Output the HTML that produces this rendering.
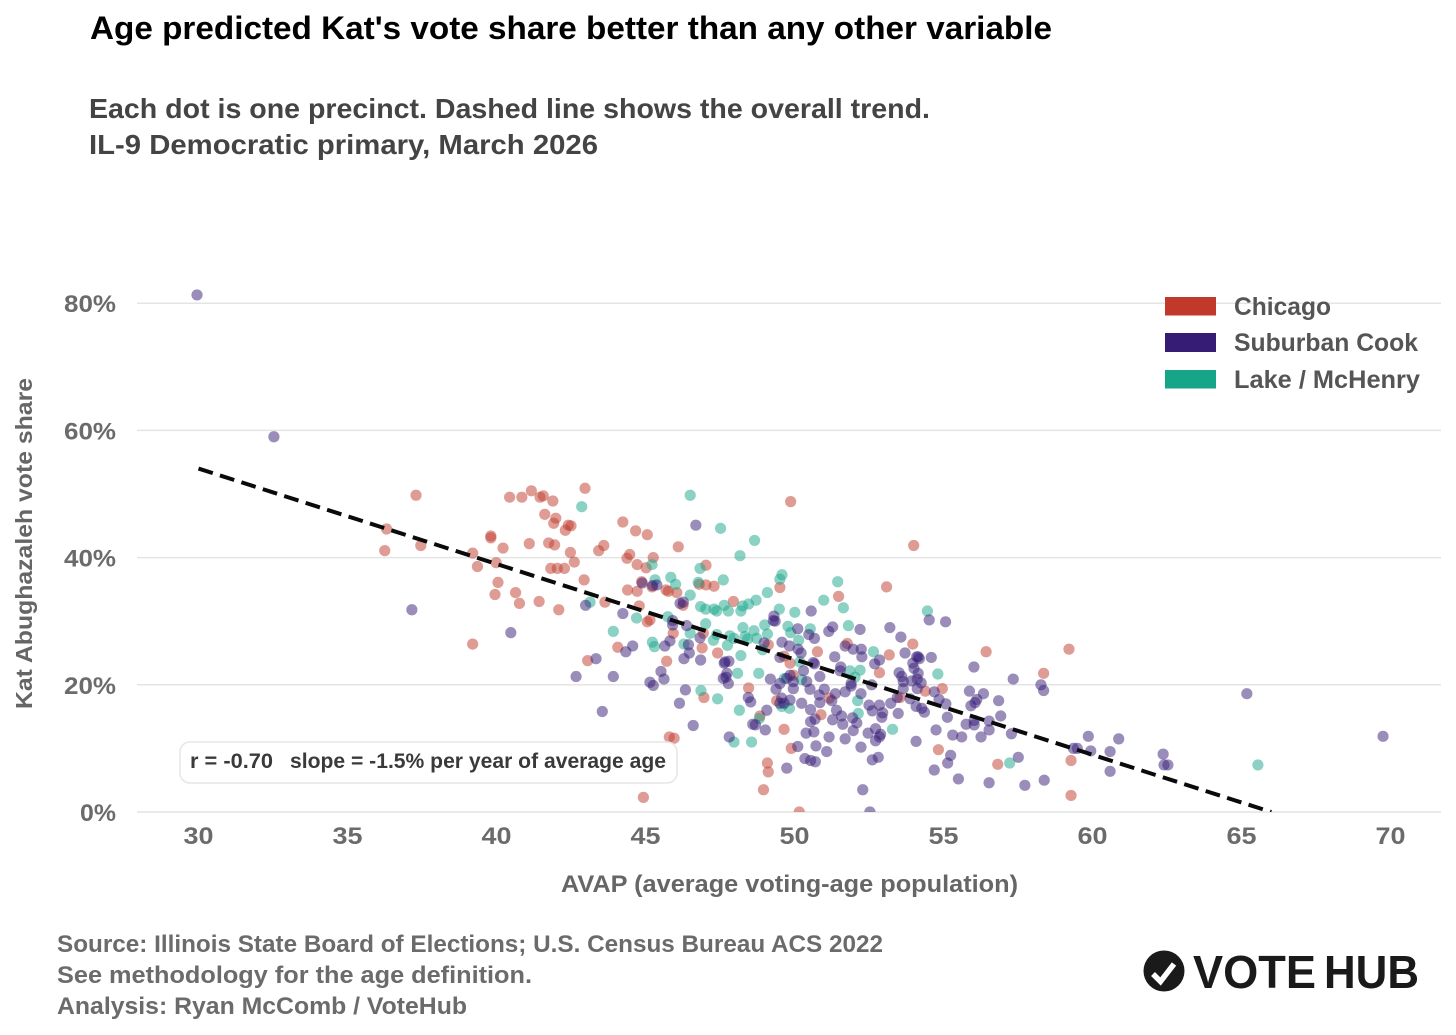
<!DOCTYPE html>
<html lang="en">
<head>
<meta charset="utf-8">
<title>Age predicted Kat's vote share</title>
<style>
html,body{margin:0;padding:0;background:#fff;width:1456px;height:1035px;overflow:hidden}
svg{display:block}
text{font-family:"Liberation Sans",sans-serif;font-weight:700}
</style>
</head>
<body>
<svg id="chart" width="1456" height="1035" viewBox="0 0 1456 1035" xmlns="http://www.w3.org/2000/svg">
  <defs><clipPath id="plot-clip"><rect x="137" y="250" width="1304" height="562"></rect></clipPath></defs>
  <text x="90" y="39" font-size="32" fill="#000" textLength="962" lengthAdjust="spacingAndGlyphs">Age predicted Kat's vote share better than any other variable</text>
  <text x="89" y="118" font-size="28" fill="#444" textLength="841" lengthAdjust="spacingAndGlyphs">Each dot is one precinct. Dashed line shows the overall trend.</text>
  <text x="89" y="154" font-size="28" fill="#444" textLength="509" lengthAdjust="spacingAndGlyphs">IL-9 Democratic primary, March 2026</text>
  <g id="grid"></g>
  <g id="y-ticks"></g>
  <g id="x-ticks"></g>
  <g clip-path="url(#plot-clip)">
    <g id="points"></g>
    <g id="trend"></g>
  </g>
  <text transform="translate(32,543.5) rotate(-90)" text-anchor="middle" font-size="23.5" fill="#666" textLength="331" lengthAdjust="spacingAndGlyphs">Kat Abughazaleh vote share</text>
  <text x="561" y="892" font-size="24" fill="#666" textLength="457" lengthAdjust="spacingAndGlyphs">AVAP (average voting-age population)</text>

  <g>
    <rect x="1165" y="297" width="51" height="18.5" fill="#c0392b"></rect>
    <text x="1234" y="315" font-size="25" fill="#555" textLength="97" lengthAdjust="spacingAndGlyphs">Chicago</text>
    <rect x="1165" y="333" width="51" height="19" fill="#361c75"></rect>
    <text x="1234" y="351" font-size="25" fill="#555" textLength="184" lengthAdjust="spacingAndGlyphs">Suburban Cook</text>
    <rect x="1165" y="370" width="51" height="18.5" fill="#17a589"></rect>
    <text x="1234" y="388" font-size="25" fill="#555" textLength="186" lengthAdjust="spacingAndGlyphs">Lake / McHenry</text>
  </g>

  <g>
    <rect x="180" y="742" width="497" height="41" rx="10" ry="10" fill="#fff" fill-opacity="0.9" stroke="#e6e6e6" stroke-width="1.5"></rect>
    <text x="190" y="768" font-size="21" fill="#3a3a3a" textLength="83" lengthAdjust="spacingAndGlyphs">r = -0.70</text>
    <text x="290" y="768" font-size="21" fill="#3a3a3a" textLength="376" lengthAdjust="spacingAndGlyphs">slope = -1.5% per year of average age</text>
  </g>

  <text x="57" y="952" font-size="24.5" fill="#6b6b6b" textLength="826" lengthAdjust="spacingAndGlyphs">Source: Illinois State Board of Elections; U.S. Census Bureau ACS 2022</text>
  <text x="57" y="983" font-size="24.5" fill="#6b6b6b" textLength="475" lengthAdjust="spacingAndGlyphs">See methodology for the age definition.</text>
  <text x="57" y="1014" font-size="24.5" fill="#6b6b6b" textLength="410" lengthAdjust="spacingAndGlyphs">Analysis: Ryan McComb / VoteHub</text>

  <g>
    <circle cx="1164" cy="971" r="20.5" fill="#1a1a1a"></circle>
    <polyline points="1153,974 1160.5,981.5 1174,964" fill="none" stroke="#fff" stroke-width="5.5"></polyline>
    <text x="1193" y="988" font-size="46" fill="#1a1a1a" textLength="123" lengthAdjust="spacingAndGlyphs">VOTE</text>
    <text x="1324" y="988" font-size="46" fill="#1a1a1a" textLength="95" lengthAdjust="spacingAndGlyphs">HUB</text>
  </g>
</svg>
<script>
const xTickValues = [30,35,40,45,50,55,60,65,70];
const yTickValues = [0,20,40,60,80];
const yTickLabels = ["0%","20%","40%","60%","80%"];
const trendAge = [30,66];
const trendShare = [54,0];

const chicagoAge = [37.30,40.44,40.85,41.17,41.46,41.57,41.89,42.97,41.62,41.99,41.92,42.41,42.50,42.31,44.24,44.67,45.06,36.31,36.25,37.46,39.81,39.81,40.22,41.10,41.75,41.95,39.20,39.99,39.36,42.48,42.61,41.82,42.04,42.28,43.43,43.60,44.38,44.47,44.72,45.02,45.26,46.10,42.94,40.05,39.95,40.64,40.77,41.43,42.09,39.20,44.40,44.72,45.69,45.77,46.05,43.64,44.79,45.06,45.15,45.93,44.07,44.87,45.22,49.87,54.00,47.03,46.80,47.03,47.30,47.95,49.51,51.48,53.09,46.26,46.90,47.42,45.71,49.12,49.65,50.77,51.77,53.18,53.97,46.94,43.06,48.46,46.96,48.84,49.65,49.40,50.89,51.17,49.89,45.80,45.96,49.09,49.12,48.96,44.93,50.16,49.85,49.96,56.43,59.21,58.36,52.85,54.39,54.96,53.54,54.83,56.82,59.28,59.28];
const chicagoShare = [49.8,49.5,49.5,50.5,49.5,49.7,48.9,50.9,46.8,46.2,45.4,45.1,45.0,44.3,45.6,44.2,43.6,44.5,41.1,41.9,43.4,43.1,41.5,42.2,42.3,42.0,40.7,39.2,38.6,40.8,39.3,38.3,38.3,38.3,41.1,41.9,39.9,40.5,38.9,38.4,40.0,41.7,36.5,36.1,34.2,34.5,32.8,33.1,31.8,26.4,34.9,34.7,34.9,34.7,34.5,33.0,32.4,29.9,30.2,28.1,25.9,36.2,35.4,48.8,41.9,38.8,35.8,35.7,35.5,33.1,35.3,33.9,35.4,32.5,25.8,25.0,23.7,26.3,24.5,25.2,26.5,24.7,26.4,28.1,23.8,19.5,18.0,15.1,13.0,17.5,15.3,17.9,10.0,11.8,11.6,7.7,6.3,3.5,2.3,0.0,23.4,21.5,25.2,25.6,21.8,21.9,19.0,19.4,18.0,9.8,7.5,8.1,2.6];

const lakeAge = [42.86,45.22,45.32,45.85,46.01,43.14,44.70,45.75,43.92,45.23,45.30,46.50,47.52,48.66,48.17,46.83,46.77,47.61,49.58,49.51,51.45,46.50,49.09,48.71,48.46,48.26,48.20,47.78,47.64,47.39,47.30,47.02,46.85,49.49,50.01,50.98,51.64,54.46,51.81,47.02,46.50,47.39,47.28,47.75,47.83,47.97,48.27,48.34,48.43,48.64,48.73,49.00,49.09,48.93,48.20,49.78,49.87,50.14,50.53,52.65,46.29,50.18,46.86,47.42,48.15,48.82,47.97,48.56,48.09,48.80,49.66,49.83,49.57,50.24,51.86,52.12,52.14,54.81,52.20,52.03,53.29,57.22,65.55];
const lakeShare = [48.0,38.9,36.5,36.9,35.8,33.0,30.5,30.7,28.4,26.7,26.0,49.8,44.6,42.7,40.3,38.3,36.1,36.5,37.3,36.6,36.2,34.1,34.5,33.3,32.7,32.4,31.6,31.6,32.5,31.6,31.9,31.9,32.3,31.9,31.4,33.3,32.1,31.6,29.3,29.6,28.1,27.9,27.0,26.2,27.7,27.3,29.0,27.6,27.2,28.5,27.3,29.4,28.0,25.5,24.6,29.2,28.2,27.0,28.8,25.2,26.4,23.6,19.1,17.8,16.0,14.7,11.0,11.0,21.8,21.8,21.0,16.3,16.6,20.8,22.2,17.5,15.5,21.7,22.3,21.2,13.0,7.7,7.4];

const suburbanAge = [37.16,40.48,42.99,44.24,44.89,45.24,45.38,45.91,45.91,45.82,45.65,44.57,44.34,46.16,46.69,50.56,49.31,49.29,49.35,50.11,50.48,50.67,51.15,51.28,52.20,53.20,54.52,55.07,53.57,46.27,46.38,46.83,46.44,46.47,46.29,46.85,47.80,47.67,48.98,49.58,49.83,50.12,50.22,51.35,51.70,51.97,52.24,52.26,52.85,53.71,54.10,54.59,50.63,54.15,43.34,42.67,43.92,45.15,45.26,45.52,45.62,46.34,46.14,43.55,46.60,47.64,47.73,47.61,47.78,47.70,48.45,48.53,49.07,48.60,48.69,49.02,47.81,49.74,49.19,49.38,49.57,49.65,49.51,49.85,50.24,50.54,50.69,50.54,50.39,50.65,50.11,50.72,51.08,50.35,50.54,50.70,51.16,51.70,51.97,51.28,51.62,51.58,51.41,51.95,52.09,50.85,50.83,51.00,51.37,51.25,51.70,50.52,50.41,50.30,50.85,51.55,51.53,50.67,49.51,49.51,49.74,49.85,49.96,49.96,51.90,52.69,54.19,53.97,54.01,53.51,53.60,53.65,53.65,54.15,54.12,54.25,53.93,54.12,53.45,53.88,53.23,54.08,54.27,54.36,53.48,54.69,54.85,55.08,55.13,56.02,57.34,55.87,56.34,56.12,56.06,55.92,56.85,56.92,55.76,56.03,56.03,56.53,56.53,56.26,55.61,55.31,54.75,54.08,57.28,57.51,55.24,55.14,54.69,55.50,56.53,57.73,58.38,60.59,60.59,60.88,59.86,59.94,59.36,59.49,58.27,58.36,52.29,52.53,52.61,52.81,52.23,52.72,52.47,52.72,52.89,52.85,52.93,52.96,52.85,52.50,52.61,52.23,51.90,52.59,29.95,32.53,65.18,69.75,62.37,62.40,62.53];
const suburbanShare = [31.8,28.2,32.5,31.2,36.0,35.6,35.7,30.1,29.4,26.9,26.1,26.1,25.2,32.8,45.1,31.6,30.8,30.1,30.0,28.8,27.9,27.3,28.4,29.1,28.7,29.0,30.2,29.9,27.5,33.0,29.3,27.4,26.3,25.0,24.1,23.9,23.7,23.6,26.6,26.7,26.1,25.6,25.0,24.4,26.1,25.6,25.6,24.4,23.9,25.0,24.4,24.3,23.5,24.4,24.1,21.3,21.3,20.4,19.9,22.1,20.9,19.2,17.1,15.8,13.6,23.4,21.8,21.0,20.2,21.2,18.0,17.3,16.0,13.8,13.7,12.9,11.8,6.9,20.9,19.3,17.9,17.1,17.1,17.6,17.1,16.1,14.6,14.2,12.4,12.6,10.3,10.4,9.5,8.4,8.1,7.9,11.8,11.5,12.8,14.5,13.8,15.1,16.0,14.8,14.0,17.2,18.4,19.3,18.6,17.5,18.9,19.3,20.5,22.2,21.3,22.8,22.2,23.3,24.3,20.2,21.0,21.5,20.5,19.4,20.2,23.3,24.1,23.4,22.6,21.9,21.3,20.5,19.4,21.8,20.9,20.3,20.6,19.4,18.0,17.8,17.1,16.6,16.3,15.7,15.5,18.9,17.7,17.0,14.9,22.8,20.9,19.0,18.6,17.7,17.2,16.7,17.5,15.1,13.8,13.7,14.4,14.3,12.9,11.8,11.8,12.1,12.9,11.1,12.3,8.6,8.9,7.7,6.6,5.2,4.6,4.2,5.0,6.4,9.5,11.5,11.9,9.6,10.0,10.0,20.0,19.1,3.5,0.0,8.2,8.6,10.2,11.2,12.4,13.1,12.2,11.8,14.9,15.6,16.8,16.8,15.9,18.6,19.8,20.0,81.3,59.0,18.6,11.9,9.1,7.4,7.4];

const SVGNS = "http://www.w3.org/2000/svg";
function xScale(v){ return 198.5 + (v - 30) * 29.8; }
function yScale(v){ return 812 - v * 6.36; }

const gridLayer = document.getElementById("grid");
const yTickLayer = document.getElementById("y-ticks");
const xTickLayer = document.getElementById("x-ticks");
const pointLayer = document.getElementById("points");
const trendLayer = document.getElementById("trend");

yTickValues.forEach(function(v, i){
  const line = document.createElementNS(SVGNS, "line");
  
  
  line.setAttribute("x1", 137);
  line.setAttribute("x2", 1441);
  line.setAttribute("y1", yScale(v));
  line.setAttribute("y2", yScale(v));
  line.setAttribute("stroke", "#e4e4e4");
  line.setAttribute("stroke-width", "1.5");
  gridLayer.appendChild(line);

  const label = document.createElementNS(SVGNS, "text");
  
  
  label.setAttribute("x", 116);
  label.setAttribute("y", yScale(v) + 9);
  label.setAttribute("text-anchor", "end");
  label.setAttribute("font-size", "24.5");
  label.setAttribute("fill", "#6b6b6b");
  label.setAttribute("textLength", yTickLabels[i].length * 16 + 4);
  label.setAttribute("lengthAdjust", "spacingAndGlyphs");
  label.textContent = yTickLabels[i];
  yTickLayer.appendChild(label);
});

xTickValues.forEach(function(v){
  const label = document.createElementNS(SVGNS, "text");
  
  
  label.setAttribute("x", xScale(v));
  label.setAttribute("y", 844);
  label.setAttribute("text-anchor", "middle");
  label.setAttribute("font-size", "24.5");
  label.setAttribute("fill", "#6b6b6b");
  label.setAttribute("textLength", "30");
  label.setAttribute("lengthAdjust", "spacingAndGlyphs");
  label.textContent = String(v);
  xTickLayer.appendChild(label);
});

function drawSeries(ages, shares, color){
  ages.forEach(function(age, i){
    const dot = document.createElementNS(SVGNS, "circle");
    
    
    dot.setAttribute("cx", xScale(age));
    dot.setAttribute("cy", yScale(shares[i]));
    dot.setAttribute("r", "5.6");
    dot.setAttribute("fill", color);
    dot.setAttribute("fill-opacity", "0.5");
    pointLayer.appendChild(dot);
  });
}
drawSeries(chicagoAge, chicagoShare, "#c0392b");
drawSeries(lakeAge, lakeShare, "#17a589");
drawSeries(suburbanAge, suburbanShare, "#361c75");

const trendLine = document.createElementNS(SVGNS, "line");


trendLine.setAttribute("x1", xScale(trendAge[0]));
trendLine.setAttribute("y1", yScale(trendShare[0]));
trendLine.setAttribute("x2", xScale(trendAge[1]));
trendLine.setAttribute("y2", yScale(trendShare[1]));
trendLine.setAttribute("stroke", "#0a0a0a");
trendLine.setAttribute("stroke-width", "4");
trendLine.setAttribute("stroke-dasharray", "15 7.5");
trendLayer.appendChild(trendLine);
</script>
</body>
</html>
